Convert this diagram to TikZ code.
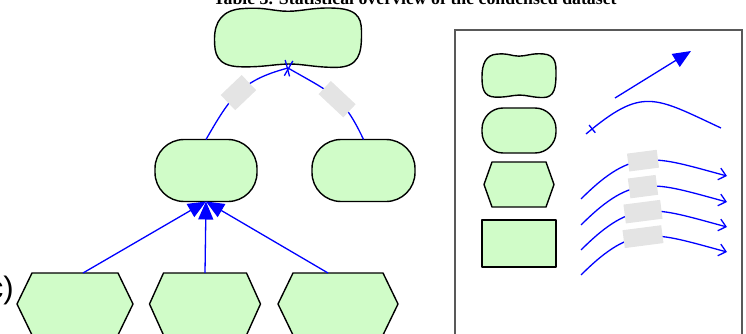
\documentclass[tikz,border=0pt]{standalone}
\usepackage{fontspec}
\setmainfont{Liberation Serif}
\newfontfamily\tagfont{Liberation Sans}
\usetikzlibrary{arrows.meta,calc,positioning,decorations.markings}
\definecolor{leafgreen}{HTML}{D0FCC8}
\definecolor{linkblue}{HTML}{0000FF}
\definecolor{tagshade}{HTML}{E4E4E4}

% wavy outline round a named node: name, half width, half height
\newcommand{\blobline}[3]{%
  \draw[outline, shift={(#1.center)}, xscale=#2, yscale=#3]
    (-0.6,0.95) .. controls (-0.3,1.0) and (-0.2,0.86) .. (0,0.86)
    .. controls (0.2,0.86) and (0.35,1.0) .. (0.65,0.96)
    .. controls (1.0,0.92) and (1.0,0.5) .. (1.0,0.1)
    .. controls (1.0,-0.5) and (0.97,-0.98) .. (0.65,-0.98)
    .. controls (0.35,-0.98) and (0.2,-0.86) .. (0,-0.87)
    .. controls (-0.2,-0.88) and (-0.35,-0.98) .. (-0.65,-0.96)
    .. controls (-0.98,-0.94) and (-1.0,-0.5) .. (-1.0,-0.05)
    .. controls (-1.0,0.5) and (-0.9,0.92) .. (-0.6,0.95) -- cycle;}
% hexagon on a named node: name, cut of the corners
\newcommand{\hexline}[2]{%
  \draw[outline] ($(#1.north west)+(#2,0)$) -- ($(#1.north east)+(-#2,0)$) -- (#1.east)
    -- ($(#1.south east)+(-#2,0)$) -- ($(#1.south west)+(#2,0)$) -- (#1.west) -- cycle;}

\begin{document}
\begin{tikzpicture}[x=1pt, y=1pt,
  outline/.style={draw=black, fill=leafgreen, line width=1.4pt, line join=round},
  holder/.style={inner sep=0, outer sep=0},
  pill/.style={outline, holder, rounded corners=#1},
  flow/.style={draw=linkblue, line width=1.3pt, -{Triangle[length=18pt, width=15pt]}},
  link/.style={draw=linkblue, line width=1.3pt},
  startbar/.style={postaction={decorate, decoration={markings,
    mark=at position 8pt with {\draw[linkblue, line width=1.3pt] (0,-5) -- (0,5);}}}},
  note/.style={fill=tagshade, sloped, inner sep=0},
  feed/.style={link, -{Straight Barb[length=7pt, width=12pt]}}]

\useasboundingbox (0,0) rectangle (746,-334);

% caption and panel tag
\node[font=\bfseries\fontsize{17.8}{20}\selectfont, anchor=base] (caption) at (415,-4.8)
  {Table 3. Statistical overview of the condensed dataset};
\node[font=\tagfont\fontsize{31}{36}\selectfont, anchor=east, inner sep=0] (tag) at (14,-290) {(c)};

% tree
\node[holder, minimum width=147pt, minimum height=61pt] (root) at (288,-37.5) {};
\blobline{root}{73.5}{30.5}
\node[pill=29pt, minimum width=102pt, minimum height=62pt] (parent) at (206,-170.5) {};
\node[pill=29pt, minimum width=103pt, minimum height=62pt] (sibling) at (363.5,-170.5) {};
\node[holder, minimum width=116pt, minimum height=62pt] (childA) at (75,-304) {};
\node[holder, minimum width=111pt, minimum height=62pt] (childB) at (205,-304) {};
\node[holder, minimum width=120pt, minimum height=62pt] (childC) at (338,-304) {};
\hexline{childA}{15}
\hexline{childB}{14}
\hexline{childC}{15}

\draw[flow] ($(childA.north)+(8,0)$) -- (parent.south);
\draw[flow] (childB.north) -- (parent.south);
\draw[flow] ($(childC.north)+(-10,0)$) -- (parent.south);

\draw[link, -{Bar[width=17pt]}] (parent.north) to[out=60, in=195, looseness=1.15]
  node[note, pos=0.5, minimum width=29pt, minimum height=21pt] {} (root.south);
\draw[link, -{Bar[width=17pt]}] (sibling.north) to[out=115, in=-30, looseness=1.2]
  node[note, pos=0.45, minimum width=34pt, minimum height=18pt] {} (root.south);

% legend
\draw[black!65, line width=1.3pt] (455,-30) rectangle (742,-345);
\node[holder, minimum width=74pt, minimum height=45pt] (keyblob) at (519,-75.5) {};
\blobline{keyblob}{37}{22.5}
\node[pill=21pt, minimum width=74pt, minimum height=45pt] (keypill) at (519,-130.5) {};
\node[holder, minimum width=70pt, minimum height=45pt] (keyhex) at (519,-184.5) {};
\hexline{keyhex}{8}
\node[outline, holder, minimum width=74pt, minimum height=47pt] (keyrect) at (519,-243.5) {};

\coordinate (arrowtail) at (615,-98);
\coordinate (arrowhead) at (691,-51);
\draw[flow] (arrowtail) -- (arrowhead);

\coordinate (arcleft) at (586,-134);
\coordinate (arcright) at (721,-128);
\draw[link, startbar] (arcleft) to[out=40, in=155, looseness=1.4] (arcright);

\foreach \dy/\w/\h [count=\i] in {0/30/18, 26/28/20, 51/37/19, 76/39/18} {
  \coordinate (from\i) at (581,-199-\dy);
  \coordinate (to\i) at (727,-176-\dy);
  \draw[feed] (from\i) to[out=45, in=165, looseness=1.3]
    node[note, pos=0.47, minimum width=\w pt, minimum height=\h pt] {} (to\i);
}

\end{tikzpicture}
\end{document}
